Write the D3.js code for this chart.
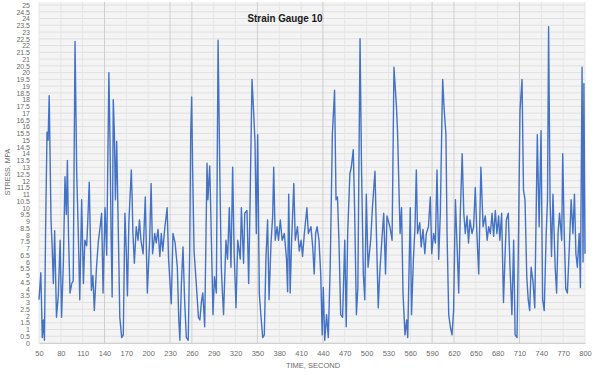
<!DOCTYPE html>
<html>
  <head>
    <meta charset="utf-8" />
    <title>Strain Gauge 10</title>
    <script src="https://d3js.org/d3.v7.min.js"></script>
    <style>
      body { margin: 0; background: #fff; }
      svg text { font-family: "Liberation Sans", Arial, sans-serif; }
    </style>
  </head>
  <body>
    <svg id="chart"></svg>
    <script>
      // time (s) and stress (MPa)
      var seconds = [
        50, 52.5, 54.5, 56, 57.5, 59, 61, 62.5, 64, 66.5, 68, 69.7, 71.5, 74, 76.5, 79, 81, 83.5, 85.7, 87.5,
        89, 90.5, 92.6, 95, 97, 99.5, 101.8, 104, 106, 108.6, 111, 113, 115.5, 117, 119, 122, 124, 126, 129, 131.5,
        134, 136, 138, 140.7, 143, 146, 147.5, 149, 150.5, 152, 153.5, 155, 156.7, 159, 161, 163.6, 165.8, 168, 170, 171.5,
        173.5, 176.8, 178, 179, 181, 183.6, 186, 188, 190, 193, 196, 198.8, 202, 204, 206, 209, 211, 213.5, 216, 218,
        220, 222.6, 226, 228, 231.7, 234, 237, 240, 242, 243.5, 245.6, 247.8, 250, 252.4, 255, 257, 258.4, 259.7, 261, 263,
        266, 269, 271, 273, 275, 277.6, 280.8, 282, 284.5, 286, 289, 291, 293.6, 296, 298.5, 300.4, 302, 303.5, 306.8, 309,
        311.4, 313.7, 316, 318, 320.6, 323, 326.5, 328, 331, 332.6, 335.7, 338, 340, 342.6, 344, 346.7, 348.5, 350.4, 352.6, 355,
        357.3, 359.5, 361.7, 364, 366, 368.7, 371, 372.4, 374.5, 377, 379, 381.5, 384, 387, 390, 391.5, 393, 395, 397, 400,
        402, 405, 407.5, 410, 412, 414.5, 418, 420, 423.6, 426, 428, 430, 432, 434.6, 437, 439, 440.5, 442.5, 445, 447.4,
        450, 453, 456, 458, 460, 462, 464.4, 467, 470, 472, 474, 477, 479, 481.7, 483.5, 486, 488, 491, 493, 495.5,
        497.5, 499.6, 502, 505.6, 508, 511.5, 513.5, 516, 518, 520.7, 523.5, 526, 528, 532, 535, 537.6, 541, 542.5, 546, 548,
        550, 552.7, 555, 556.5, 558, 560, 561.7, 564.3, 566.5, 568.3, 570, 573, 575, 577.5, 580, 582, 585, 587.5, 589.5, 592,
        594.5, 596.7, 599, 601.3, 603.6, 604.5, 606.5, 609, 610.5, 612.8, 615, 617.3, 619.5, 622, 624, 626.5, 628.6, 631.3, 633.5, 635.6,
        638, 640, 642, 644.8, 647, 649.3, 651.5, 654, 657, 660, 663, 665.6, 667.7, 670, 672.3, 674.5, 676.8, 679, 681.4, 683,
        685.5, 688, 690, 692, 694.6, 697, 699.6, 702, 704, 706.6, 708.4, 710.7, 713.5, 715.5, 717.6, 720, 722, 724, 726, 728.5,
        731, 734.5, 737, 739.6, 741.8, 744, 746.7, 748.5, 750, 752, 754, 756, 759, 761, 763, 765, 768, 769.4, 771.5, 773.6,
        775.8, 778.5, 781, 783.4, 785.5, 787.5, 789.5, 792, 793.7, 796, 797.3, 798.5, 800
      ];
      var stress = [
        3.2, 5.2, 0.4, 1.7, 0.2, 8.1, 15.6, 15, 18.3, 9.1, 7.2, 4.4, 8.3, 1.9, 3.5, 7.6, 1.9, 6, 12.3, 9.5,
        13.5, 8, 3.7, 4.4, 4.6, 22.3, 12.6, 8.1, 3.2, 10.6, 4.4, 7.6, 7.2, 9, 11.9, 3.9, 5, 2.4, 5.6, 7.5,
        8.6, 9.6, 3.7, 10, 6.5, 20, 15, 8.1, 3.4, 18, 15.6, 10.6, 14.9, 8.1, 1.9, 0.4, 0.6, 9.6, 6.6, 3.5,
        9, 12.8, 10.6, 8.1, 5.9, 8.6, 7.6, 9.1, 7.6, 6.6, 10.8, 3.7, 7.6, 11.8, 6.6, 8.1, 7.4, 8.4, 6.4, 8.1,
        6.8, 8.4, 10, 6.2, 2.9, 8.1, 7.4, 5.6, 1.7, 0.2, 4.4, 7.1, 3.2, 0.4, 0.2, 6.8, 15.5, 18.2, 13, 6.8,
        4.4, 1.9, 1.7, 3, 3.7, 1.2, 13.3, 10.6, 13.1, 9.6, 2.1, 4.9, 3.7, 22.4, 12.1, 5.6, 3.7, 2.1, 7.6, 6.2,
        10, 5.6, 13, 6.8, 2.6, 7.6, 6.2, 10, 5.9, 9.6, 9.8, 4.4, 10.6, 19.5, 18, 14.9, 8.1, 15.4, 3.7, 1.9,
        0.4, 0.6, 6.2, 9.1, 3.2, 7.4, 9.4, 13, 7.6, 8.6, 7.6, 9.1, 7.6, 8.1, 6.2, 3.8, 11, 3.7, 7.6, 11.8,
        7.6, 8.6, 6.8, 7.6, 6.4, 8.1, 10, 8.1, 8.6, 7.1, 5.1, 8.1, 8.6, 7.6, 5.1, 0.6, 4.1, 0.2, 2.1, 0.4,
        5.6, 15.5, 18.7, 10.6, 10.8, 7.6, 2.1, 1.9, 7.6, 1.2, 8.1, 12.5, 13, 14.3, 10, 2.1, 4.1, 22.5, 13, 5.1,
        3.2, 11, 5.6, 7.6, 10, 12.7, 8.1, 2.6, 5.1, 7.4, 9.6, 5.1, 9.4, 8.6, 7.6, 20.4, 17.5, 15.6, 8.1, 10,
        3.7, 0.6, 1.7, 0.4, 4.6, 10, 2.1, 6.2, 8.6, 12.8, 8.1, 8.9, 7.1, 8.4, 6.6, 8.1, 8.6, 10.8, 6.6, 8.1,
        7.4, 12.8, 6.2, 9.6, 17, 19.5, 17.3, 15.4, 8.1, 2.1, 1.2, 0.6, 2.4, 10.6, 7.6, 3.7, 9.4, 14, 9.6, 8.1,
        9.4, 7.4, 9.1, 8.1, 8.6, 11.5, 8.1, 5.1, 13, 8.6, 9.4, 7.6, 8.6, 8.1, 9.6, 7.9, 9.8, 8.1, 9.4, 7.6,
        9.6, 3, 6.2, 9.1, 9.6, 5.6, 2.1, 7.6, 0.6, 0.4, 6.8, 17.2, 19.5, 11.3, 10.6, 4.9, 3.2, 2.4, 5.6, 4.6,
        2.6, 15.4, 8.6, 15.7, 3.2, 2.4, 8.1, 10.6, 23.4, 10.6, 6.4, 11, 5.6, 3.7, 8.1, 9.6, 7.6, 14, 8.1, 4,
        3.7, 7.1, 10.6, 8.1, 11, 6.6, 5.6, 8.1, 4.1, 20.4, 6, 19.2, 6.6
      ];

      var xTicks = [50, 80, 110, 140, 170, 200, 230, 260, 290, 320, 350, 380, 410, 440, 470, 500,
        530, 560, 590, 620, 650, 680, 710, 740, 770, 800];
      var yTicks = [0, 0.5, 1, 1.5, 2, 2.5, 3, 3.5, 4, 4.5, 5, 5.5, 6, 6.5, 7, 7.5, 8, 8.5, 9, 9.5,
        10, 10.5, 11, 11.5, 12, 12.5, 13, 13.5, 14, 14.5, 15, 15.5, 16, 16.5, 17, 17.5, 18, 18.5,
        19, 19.5, 20, 20.5, 21, 21.5, 22, 22.5, 23, 23.5, 24, 24.5, 25];
      // grid lines that show darker in the scan
      var darkGrid = [140, 230, 260, 350, 440, 590, 620, 710];

      var width = 600, height = 375;
      var plotLeft = 39, plotRight = 585, plotTop = 5, plotBottom = 343;

      var svg = d3.select("#chart").attr("width", width).attr("height", height);

      var x = d3.scaleLinear().domain([50, 800]).range([plotLeft, plotRight]);
      var y = d3.scaleLinear().domain([0, 25]).range([plotBottom, plotTop]);

      // plot background
      svg.append("rect")
        .attr("x", plotLeft).attr("y", plotTop - 3)
        .attr("width", plotRight - plotLeft).attr("height", plotBottom - plotTop + 3)
        .attr("fill", "#f4f4f4");

      // horizontal grid
      svg.append("g")
        .selectAll("line")
        .data(yTicks)
        .enter()
        .append("line")
        .attr("x1", plotLeft).attr("x2", plotRight)
        .attr("y1", function (d) { return y(d); })
        .attr("y2", function (d) { return y(d); })
        .attr("stroke", "#e0e0e0")
        .attr("stroke-width", 1);

      // vertical grid
      svg.append("g")
        .selectAll("line")
        .data(xTicks)
        .enter()
        .append("line")
        .attr("x1", function (d) { return x(d); })
        .attr("x2", function (d) { return x(d); })
        .attr("y1", plotTop - 3).attr("y2", plotBottom)
        .attr("stroke", function (d) { return darkGrid.indexOf(d) >= 0 ? "#cfcfcf" : "#e6e6e6"; })
        .attr("stroke-width", 1);

      // series
      var points = seconds.map(function (t, i) { return [t, stress[i]]; });
      var line = d3.line()
        .x(function (d) { return x(d[0]); })
        .y(function (d) { return y(d[1]); });

      svg.append("path")
        .datum(points)
        .attr("d", line)
        .attr("fill", "none")
        .attr("stroke", "#4472c4")
        .attr("stroke-width", 1.4)
        .attr("stroke-linejoin", "round");

      // y axis
      var gy = svg.append("g")
        .attr("transform", "translate(" + plotLeft + ",0)")
        .call(d3.axisLeft(y).tickValues(yTicks).tickSize(0).tickPadding(9)
          .tickFormat(function (d) { return String(d); }));
      gy.select(".domain").remove();
      gy.selectAll("text")
        .attr("font-size", 7)
        .attr("fill", "#6b6b6b")
        .attr("font-family", "Liberation Sans, Arial, sans-serif");

      // x axis
      var gx = svg.append("g")
        .attr("transform", "translate(0," + plotBottom + ")")
        .call(d3.axisBottom(x).tickValues(xTicks).tickSize(0).tickPadding(8));
      gx.select(".domain").attr("stroke", "#d0d0d0");
      gx.selectAll("text")
        .attr("font-size", 7.5)
        .attr("fill", "#6b6b6b")
        .attr("font-family", "Liberation Sans, Arial, sans-serif");

      // title
      svg.append("text")
        .attr("x", 285).attr("y", 22)
        .attr("text-anchor", "middle")
        .attr("font-size", 11)
        .attr("font-weight", "bold")
        .attr("fill", "#1a1a1a")
        .attr("textLength", 75)
        .attr("lengthAdjust", "spacingAndGlyphs")
        .text("Strain Gauge 10");

      // axis titles
      svg.append("text")
        .attr("transform", "translate(10,172) rotate(-90)")
        .attr("text-anchor", "middle")
        .attr("font-size", 7)
        .attr("fill", "#6b6b6b")
        .text("STRESS, MPA");

      svg.append("text")
        .attr("x", 313).attr("y", 368)
        .attr("text-anchor", "middle")
        .attr("font-size", 7.5)
        .attr("fill", "#6b6b6b")
        .text("TIME, SECOND");
    </script>
  </body>
</html>
